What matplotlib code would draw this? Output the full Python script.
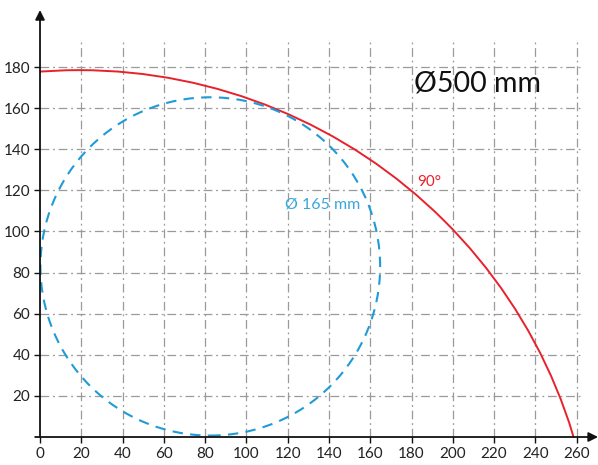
import numpy as np
import matplotlib
matplotlib.use("Agg")
import matplotlib.pyplot as plt
from matplotlib.patches import Circle

plt.rcParams["font.family"] = ["Lato", "DejaVu Sans"]

# circles: (centre x, centre y), radius
big_center = (19, -71.5)      # Ø500 mm, 90°
big_radius = 250
small_center = (82.5, 83)     # Ø165 mm
small_radius = 82.3

x_ticks = list(range(0, 261, 20))
y_ticks = list(range(20, 181, 20))

RED = "#e8212b"
BLUE = "#1f9bd7"
GRID = "#9a9a9a"

fig = plt.figure(figsize=(5.98, 4.65), dpi=100)
ax = fig.add_axes([0.0669, 0.0602, 0.906, 0.8486])
ax.set_xlim(0, 262.5)
ax.set_ylim(0, 192)

for s in ax.spines.values():
    s.set_visible(False)

# grid
for xv in x_ticks[1:]:
    ax.axvline(xv, color=GRID, lw=0.9, ls=(0, (7, 3, 1.5, 3)), zorder=1)
for yv in y_ticks:
    ax.axhline(yv, color=GRID, lw=0.9, ls=(0, (7, 3, 1.5, 3)), zorder=1)

ax.add_patch(Circle(big_center, big_radius, fill=False, ec=RED, lw=1.4, zorder=3))
ax.add_patch(Circle(small_center, small_radius, fill=False, ec=BLUE, lw=1.5,
                    ls=(0, (5, 3.5)), zorder=3))

ax.text(181, 172, "Ø500 mm", fontsize=20.5, color="#111111", va="center", ha="left")
ax.text(183, 124, "90°", fontsize=11, color=RED, va="center", ha="left")
ax.text(118.5, 113, "Ø 165 mm", fontsize=11.5, color="#3aa6dc", va="center", ha="left")

ax.set_xticks(x_ticks)
ax.set_yticks(y_ticks)
ax.tick_params(axis="both", length=4, width=1, color="#111111", labelsize=11,
               labelcolor="#222222", pad=3)

# axis arrows
arrow = dict(arrowstyle="-|>", color="#111111", lw=1.3, mutation_scale=14,
             shrinkA=0, shrinkB=0)
ax.annotate("", xy=(0, 1.082), xytext=(0, 0), xycoords="axes fraction",
            textcoords="axes fraction", arrowprops=arrow, annotation_clip=False)
ax.annotate("", xy=(1.03, 0), xytext=(-0.009, 0), xycoords="axes fraction",
            textcoords="axes fraction", arrowprops=arrow, annotation_clip=False)

fig.savefig("out.png", dpi=100)
